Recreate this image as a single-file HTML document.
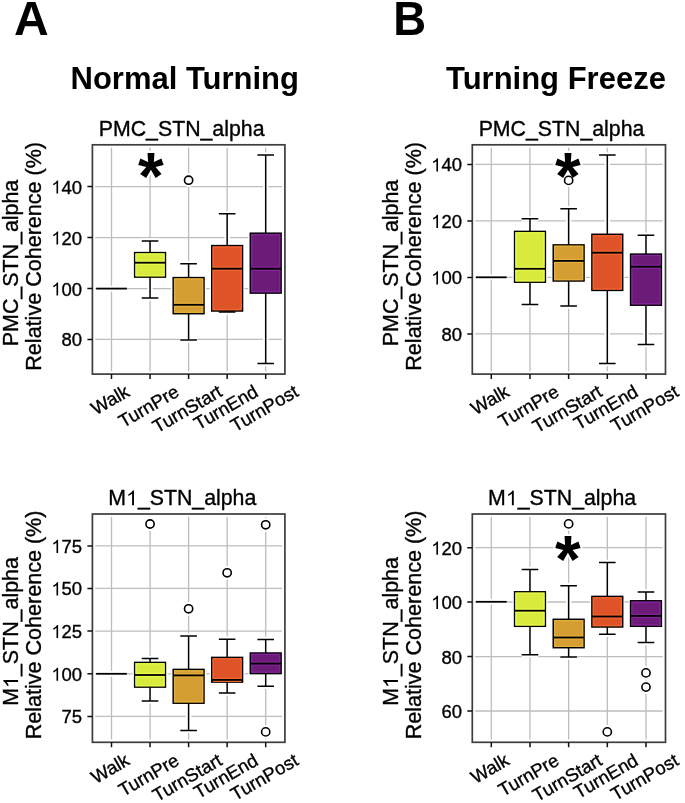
<!DOCTYPE html>
<html><head><meta charset="utf-8"><style>
html,body{margin:0;padding:0;background:#fff;}
body{width:685px;height:803px;overflow:hidden;}
svg{display:block;will-change:transform;}
.r text,.r path,text.xl{stroke:#000;stroke-width:0.35px;}
</style></head><body>
<svg width="685" height="803" viewBox="0 0 685 803">
<rect width="685" height="803" fill="#fff"/>
<path d="M111.5 144.8V374.1M150.05 144.8V374.1M188.6 144.8V374.1M227.15 144.8V374.1M265.7 144.8V374.1M92.4 186.6H284.9M92.4 237.6H284.9M92.4 288.6H284.9M92.4 339.4H284.9" stroke="#bdbdbd" stroke-width="1.3" fill="none"/>
<rect x="92.4" y="144.8" width="192.5" height="229.3" fill="none" stroke="#fff" stroke-width="5.7"/>
<line x1="96.1" y1="288.6" x2="126.9" y2="288.6" stroke="#fff" stroke-width="5.8"/>
<path d="M150.05 241V252.6M150.05 277.1V298M141.75 241H158.35M141.75 298H158.35" stroke="#fff" stroke-width="5.5" fill="none"/>
<rect x="134.65" y="252.6" width="30.8" height="24.5" fill="#fff" stroke="#fff" stroke-width="4.1"/>
<path d="M188.6 263.8V277.6M188.6 313.7V339.9M180.3 263.8H196.9M180.3 339.9H196.9" stroke="#fff" stroke-width="5.5" fill="none"/>
<rect x="173.2" y="277.6" width="30.8" height="36.1" fill="#fff" stroke="#fff" stroke-width="4.1"/>
<circle cx="188.6" cy="180.2" r="4.1" fill="#fff" stroke="#fff" stroke-width="5.6"/>
<path d="M227.15 213.8V245.6M227.15 311V312M218.85 213.8H235.45M218.85 312H235.45" stroke="#fff" stroke-width="5.5" fill="none"/>
<rect x="211.75" y="245.6" width="30.8" height="65.4" fill="#fff" stroke="#fff" stroke-width="4.1"/>
<path d="M265.7 155V233.2M265.7 293.1V363.6M257.4 155H274M257.4 363.6H274" stroke="#fff" stroke-width="5.5" fill="none"/>
<rect x="250.3" y="233.2" width="30.8" height="59.9" fill="#fff" stroke="#fff" stroke-width="4.1"/>
<text x="150.9" y="198.6" text-anchor="middle" style="font-family:'Liberation Sans',sans-serif;font-weight:bold;font-size:66px;stroke:#fff;stroke-width:4px;stroke-linejoin:round">*</text>
<line x1="96.1" y1="288.6" x2="126.9" y2="288.6" stroke="#000" stroke-width="1.8"/>
<path d="M150.05 241V252.6M150.05 277.1V298M141.75 241H158.35M141.75 298H158.35" stroke="#000" stroke-width="1.5" fill="none"/>
<rect x="134.65" y="252.6" width="30.8" height="24.5" fill="#D8EB3C" stroke="#000" stroke-width="1.5"/>
<rect x="136.05" y="254" width="28" height="21.7" fill="none" stroke="#E6F84A" stroke-width="1.3"/>
<path d="M136.05 261.15H164.05M136.05 264.25H164.05" stroke="#E6F84A" stroke-width="1.3"/>
<line x1="134.65" y1="262.7" x2="165.45" y2="262.7" stroke="#000" stroke-width="1.8"/>
<path d="M188.6 263.8V277.6M188.6 313.7V339.9M180.3 263.8H196.9M180.3 339.9H196.9" stroke="#000" stroke-width="1.5" fill="none"/>
<rect x="173.2" y="277.6" width="30.8" height="36.1" fill="#D49E32" stroke="#000" stroke-width="1.5"/>
<rect x="174.6" y="279" width="28" height="33.3" fill="none" stroke="#E6AE3A" stroke-width="1.3"/>
<path d="M174.6 303.25H202.6M174.6 306.35H202.6" stroke="#E6AE3A" stroke-width="1.3"/>
<line x1="173.2" y1="304.8" x2="204" y2="304.8" stroke="#000" stroke-width="1.8"/>
<path d="M227.15 213.8V245.6M227.15 311V312M218.85 213.8H235.45M218.85 312H235.45" stroke="#000" stroke-width="1.5" fill="none"/>
<rect x="211.75" y="245.6" width="30.8" height="65.4" fill="#DE5428" stroke="#000" stroke-width="1.5"/>
<rect x="213.15" y="247" width="28" height="62.6" fill="none" stroke="#F06430" stroke-width="1.3"/>
<path d="M213.15 267.15H241.15M213.15 270.25H241.15" stroke="#F06430" stroke-width="1.3"/>
<line x1="211.75" y1="268.7" x2="242.55" y2="268.7" stroke="#000" stroke-width="1.8"/>
<path d="M265.7 155V233.2M265.7 293.1V363.6M257.4 155H274M257.4 363.6H274" stroke="#000" stroke-width="1.5" fill="none"/>
<rect x="250.3" y="233.2" width="30.8" height="59.9" fill="#6C1B78" stroke="#000" stroke-width="1.5"/>
<rect x="251.7" y="234.6" width="28" height="57.1" fill="none" stroke="#85239A" stroke-width="1.3"/>
<path d="M251.7 267.15H279.7M251.7 270.25H279.7" stroke="#85239A" stroke-width="1.3"/>
<line x1="250.3" y1="268.7" x2="281.1" y2="268.7" stroke="#000" stroke-width="1.8"/>
<text x="150.9" y="198.6" text-anchor="middle" style="font-family:'Liberation Sans',sans-serif;font-weight:bold;font-size:66px">*</text>
<circle cx="188.6" cy="180.2" r="4.1" fill="#fff" stroke="#000" stroke-width="1.6"/>
<rect x="92.4" y="144.8" width="192.5" height="229.3" fill="none" stroke="#3d3d3d" stroke-width="1.7"/>
<path d="M87.4 186.6H92.4M87.4 237.6H92.4M87.4 288.6H92.4M87.4 339.4H92.4M111.5 374.1V379.1M150.05 374.1V379.1M188.6 374.1V379.1M227.15 374.1V379.1M265.7 374.1V379.1" stroke="#111" stroke-width="1.5" fill="none"/>
<g class="r" transform="translate(0,193.6) scale(1,1.035) translate(0,-193.6)"><path transform="translate(51.23,193.6) scale(0.00903,-0.00903)" d="M763 0H583V1098Q518 1038 412.5 979Q307 920 223 890V1057Q374 1125 487 1221Q600 1318 647 1409H763Z"/><text x="61.52" y="193.6" style="font-family:'Liberation Sans',sans-serif;font-size:18.5px">40</text></g>
<g class="r" transform="translate(0,244.6) scale(1,1.035) translate(0,-244.6)"><path transform="translate(51.23,244.6) scale(0.00903,-0.00903)" d="M763 0H583V1098Q518 1038 412.5 979Q307 920 223 890V1057Q374 1125 487 1221Q600 1318 647 1409H763Z"/><text x="61.52" y="244.6" style="font-family:'Liberation Sans',sans-serif;font-size:18.5px">20</text></g>
<g class="r" transform="translate(0,295.6) scale(1,1.035) translate(0,-295.6)"><path transform="translate(51.23,295.6) scale(0.00903,-0.00903)" d="M763 0H583V1098Q518 1038 412.5 979Q307 920 223 890V1057Q374 1125 487 1221Q600 1318 647 1409H763Z"/><text x="61.52" y="295.6" style="font-family:'Liberation Sans',sans-serif;font-size:18.5px">00</text></g>
<g class="r" transform="translate(0,346.4) scale(1,1.035) translate(0,-346.4)"><text x="61.52" y="346.4" style="font-family:'Liberation Sans',sans-serif;font-size:18.5px">80</text></g>
<text class="xl" transform="translate(110,399.78) rotate(-30)" x="0" y="6.47" text-anchor="middle" style="font-family:'Liberation Sans',sans-serif;font-size:18.5px">Walk</text>
<text class="xl" transform="translate(148.55,406.21) rotate(-30)" x="0" y="6.47" text-anchor="middle" style="font-family:'Liberation Sans',sans-serif;font-size:18.5px">TurnPre</text>
<text class="xl" transform="translate(187.1,408.78) rotate(-30)" x="0" y="6.47" text-anchor="middle" style="font-family:'Liberation Sans',sans-serif;font-size:18.5px">TurnStart</text>
<text class="xl" transform="translate(225.65,407.24) rotate(-30)" x="0" y="6.47" text-anchor="middle" style="font-family:'Liberation Sans',sans-serif;font-size:18.5px">TurnEnd</text>
<text class="xl" transform="translate(264.2,408.26) rotate(-30)" x="0" y="6.47" text-anchor="middle" style="font-family:'Liberation Sans',sans-serif;font-size:18.5px">TurnPost</text>
<path d="M491.3 144.8V374.1M529.97 144.8V374.1M568.64 144.8V374.1M607.31 144.8V374.1M645.98 144.8V374.1M472.3 164.4H665.5M472.3 220.9H665.5M472.3 277.4H665.5M472.3 333.9H665.5" stroke="#bdbdbd" stroke-width="1.3" fill="none"/>
<rect x="472.3" y="144.8" width="193.2" height="229.3" fill="none" stroke="#fff" stroke-width="5.7"/>
<line x1="475.9" y1="277.3" x2="506.7" y2="277.3" stroke="#fff" stroke-width="5.8"/>
<path d="M529.97 218.7V231.4M529.97 282.2V304.4M521.67 218.7H538.27M521.67 304.4H538.27" stroke="#fff" stroke-width="5.5" fill="none"/>
<rect x="514.57" y="231.4" width="30.8" height="50.8" fill="#fff" stroke="#fff" stroke-width="4.1"/>
<path d="M568.64 208.8V244.9M568.64 281V306.1M560.34 208.8H576.94M560.34 306.1H576.94" stroke="#fff" stroke-width="5.5" fill="none"/>
<rect x="553.24" y="244.9" width="30.8" height="36.1" fill="#fff" stroke="#fff" stroke-width="4.1"/>
<circle cx="568.64" cy="180.4" r="4.1" fill="#fff" stroke="#fff" stroke-width="5.6"/>
<path d="M607.31 155V234.3M607.31 290.4V363.6M599.01 155H615.61M599.01 363.6H615.61" stroke="#fff" stroke-width="5.5" fill="none"/>
<rect x="591.91" y="234.3" width="30.8" height="56.1" fill="#fff" stroke="#fff" stroke-width="4.1"/>
<path d="M645.98 235.3V254.1M645.98 305.2V344.6M637.68 235.3H654.28M637.68 344.6H654.28" stroke="#fff" stroke-width="5.5" fill="none"/>
<rect x="630.58" y="254.1" width="30.8" height="51.1" fill="#fff" stroke="#fff" stroke-width="4.1"/>
<text x="567.8" y="198.6" text-anchor="middle" style="font-family:'Liberation Sans',sans-serif;font-weight:bold;font-size:66px;stroke:#fff;stroke-width:4px;stroke-linejoin:round">*</text>
<line x1="475.9" y1="277.3" x2="506.7" y2="277.3" stroke="#000" stroke-width="1.8"/>
<path d="M529.97 218.7V231.4M529.97 282.2V304.4M521.67 218.7H538.27M521.67 304.4H538.27" stroke="#000" stroke-width="1.5" fill="none"/>
<rect x="514.57" y="231.4" width="30.8" height="50.8" fill="#D8EB3C" stroke="#000" stroke-width="1.5"/>
<rect x="515.97" y="232.8" width="28" height="48" fill="none" stroke="#E6F84A" stroke-width="1.3"/>
<path d="M515.97 267.25H543.97M515.97 270.35H543.97" stroke="#E6F84A" stroke-width="1.3"/>
<line x1="514.57" y1="268.8" x2="545.37" y2="268.8" stroke="#000" stroke-width="1.8"/>
<path d="M568.64 208.8V244.9M568.64 281V306.1M560.34 208.8H576.94M560.34 306.1H576.94" stroke="#000" stroke-width="1.5" fill="none"/>
<rect x="553.24" y="244.9" width="30.8" height="36.1" fill="#D49E32" stroke="#000" stroke-width="1.5"/>
<rect x="554.64" y="246.3" width="28" height="33.3" fill="none" stroke="#E6AE3A" stroke-width="1.3"/>
<path d="M554.64 259.35H582.64M554.64 262.45H582.64" stroke="#E6AE3A" stroke-width="1.3"/>
<line x1="553.24" y1="260.9" x2="584.04" y2="260.9" stroke="#000" stroke-width="1.8"/>
<path d="M607.31 155V234.3M607.31 290.4V363.6M599.01 155H615.61M599.01 363.6H615.61" stroke="#000" stroke-width="1.5" fill="none"/>
<rect x="591.91" y="234.3" width="30.8" height="56.1" fill="#DE5428" stroke="#000" stroke-width="1.5"/>
<rect x="593.31" y="235.7" width="28" height="53.3" fill="none" stroke="#F06430" stroke-width="1.3"/>
<path d="M593.31 251.15H621.31M593.31 254.25H621.31" stroke="#F06430" stroke-width="1.3"/>
<line x1="591.91" y1="252.7" x2="622.71" y2="252.7" stroke="#000" stroke-width="1.8"/>
<path d="M645.98 235.3V254.1M645.98 305.2V344.6M637.68 235.3H654.28M637.68 344.6H654.28" stroke="#000" stroke-width="1.5" fill="none"/>
<rect x="630.58" y="254.1" width="30.8" height="51.1" fill="#6C1B78" stroke="#000" stroke-width="1.5"/>
<rect x="631.98" y="255.5" width="28" height="48.3" fill="none" stroke="#85239A" stroke-width="1.3"/>
<path d="M631.98 265.15H659.98M631.98 268.25H659.98" stroke="#85239A" stroke-width="1.3"/>
<line x1="630.58" y1="266.7" x2="661.38" y2="266.7" stroke="#000" stroke-width="1.8"/>
<text x="567.8" y="198.6" text-anchor="middle" style="font-family:'Liberation Sans',sans-serif;font-weight:bold;font-size:66px">*</text>
<circle cx="568.64" cy="180.4" r="4.1" fill="#fff" stroke="#000" stroke-width="1.6"/>
<rect x="472.3" y="144.8" width="193.2" height="229.3" fill="none" stroke="#3d3d3d" stroke-width="1.7"/>
<path d="M467.3 164.4H472.3M467.3 220.9H472.3M467.3 277.4H472.3M467.3 333.9H472.3M491.3 374.1V379.1M529.97 374.1V379.1M568.64 374.1V379.1M607.31 374.1V379.1M645.98 374.1V379.1" stroke="#111" stroke-width="1.5" fill="none"/>
<g class="r" transform="translate(0,171.4) scale(1,1.035) translate(0,-171.4)"><path transform="translate(431.13,171.4) scale(0.00903,-0.00903)" d="M763 0H583V1098Q518 1038 412.5 979Q307 920 223 890V1057Q374 1125 487 1221Q600 1318 647 1409H763Z"/><text x="441.42" y="171.4" style="font-family:'Liberation Sans',sans-serif;font-size:18.5px">40</text></g>
<g class="r" transform="translate(0,227.9) scale(1,1.035) translate(0,-227.9)"><path transform="translate(431.13,227.9) scale(0.00903,-0.00903)" d="M763 0H583V1098Q518 1038 412.5 979Q307 920 223 890V1057Q374 1125 487 1221Q600 1318 647 1409H763Z"/><text x="441.42" y="227.9" style="font-family:'Liberation Sans',sans-serif;font-size:18.5px">20</text></g>
<g class="r" transform="translate(0,284.4) scale(1,1.035) translate(0,-284.4)"><path transform="translate(431.13,284.4) scale(0.00903,-0.00903)" d="M763 0H583V1098Q518 1038 412.5 979Q307 920 223 890V1057Q374 1125 487 1221Q600 1318 647 1409H763Z"/><text x="441.42" y="284.4" style="font-family:'Liberation Sans',sans-serif;font-size:18.5px">00</text></g>
<g class="r" transform="translate(0,340.9) scale(1,1.035) translate(0,-340.9)"><text x="441.42" y="340.9" style="font-family:'Liberation Sans',sans-serif;font-size:18.5px">80</text></g>
<text class="xl" transform="translate(489.8,399.78) rotate(-30)" x="0" y="6.47" text-anchor="middle" style="font-family:'Liberation Sans',sans-serif;font-size:18.5px">Walk</text>
<text class="xl" transform="translate(528.47,406.21) rotate(-30)" x="0" y="6.47" text-anchor="middle" style="font-family:'Liberation Sans',sans-serif;font-size:18.5px">TurnPre</text>
<text class="xl" transform="translate(567.14,408.78) rotate(-30)" x="0" y="6.47" text-anchor="middle" style="font-family:'Liberation Sans',sans-serif;font-size:18.5px">TurnStart</text>
<text class="xl" transform="translate(605.81,407.24) rotate(-30)" x="0" y="6.47" text-anchor="middle" style="font-family:'Liberation Sans',sans-serif;font-size:18.5px">TurnEnd</text>
<text class="xl" transform="translate(644.48,408.26) rotate(-30)" x="0" y="6.47" text-anchor="middle" style="font-family:'Liberation Sans',sans-serif;font-size:18.5px">TurnPost</text>
<path d="M111.5 514V742.3M150.05 514V742.3M188.6 514V742.3M227.15 514V742.3M265.7 514V742.3M92.4 545.9H284.9M92.4 588.4H284.9M92.4 631.1H284.9M92.4 673.8H284.9M92.4 716.4H284.9" stroke="#bdbdbd" stroke-width="1.3" fill="none"/>
<rect x="92.4" y="514" width="192.5" height="228.3" fill="none" stroke="#fff" stroke-width="5.7"/>
<line x1="96.1" y1="673.8" x2="126.9" y2="673.8" stroke="#fff" stroke-width="5.8"/>
<path d="M150.05 658.5V662.4M150.05 687.1V700.9M141.75 658.5H158.35M141.75 700.9H158.35" stroke="#fff" stroke-width="5.5" fill="none"/>
<rect x="134.65" y="662.4" width="30.8" height="24.7" fill="#fff" stroke="#fff" stroke-width="4.1"/>
<circle cx="150.05" cy="524" r="4.1" fill="#fff" stroke="#fff" stroke-width="5.6"/>
<path d="M188.6 635.9V669.4M188.6 703.2V730.4M180.3 635.9H196.9M180.3 730.4H196.9" stroke="#fff" stroke-width="5.5" fill="none"/>
<rect x="173.2" y="669.4" width="30.8" height="33.8" fill="#fff" stroke="#fff" stroke-width="4.1"/>
<circle cx="188.6" cy="608.8" r="4.1" fill="#fff" stroke="#fff" stroke-width="5.6"/>
<path d="M227.15 639.2V657.4M227.15 682.1V693M218.85 639.2H235.45M218.85 693H235.45" stroke="#fff" stroke-width="5.5" fill="none"/>
<rect x="211.75" y="657.4" width="30.8" height="24.7" fill="#fff" stroke="#fff" stroke-width="4.1"/>
<circle cx="227.15" cy="572.8" r="4.1" fill="#fff" stroke="#fff" stroke-width="5.6"/>
<path d="M265.7 639.5V653M265.7 673.6V686.3M257.4 639.5H274M257.4 686.3H274" stroke="#fff" stroke-width="5.5" fill="none"/>
<rect x="250.3" y="653" width="30.8" height="20.6" fill="#fff" stroke="#fff" stroke-width="4.1"/>
<circle cx="265.7" cy="524.8" r="4.1" fill="#fff" stroke="#fff" stroke-width="5.6"/>
<circle cx="265.7" cy="731.9" r="4.1" fill="#fff" stroke="#fff" stroke-width="5.6"/>
<line x1="96.1" y1="673.8" x2="126.9" y2="673.8" stroke="#000" stroke-width="1.8"/>
<path d="M150.05 658.5V662.4M150.05 687.1V700.9M141.75 658.5H158.35M141.75 700.9H158.35" stroke="#000" stroke-width="1.5" fill="none"/>
<rect x="134.65" y="662.4" width="30.8" height="24.7" fill="#D8EB3C" stroke="#000" stroke-width="1.5"/>
<rect x="136.05" y="663.8" width="28" height="21.9" fill="none" stroke="#E6F84A" stroke-width="1.3"/>
<path d="M136.05 673.45H164.05M136.05 676.55H164.05" stroke="#E6F84A" stroke-width="1.3"/>
<line x1="134.65" y1="675" x2="165.45" y2="675" stroke="#000" stroke-width="1.8"/>
<path d="M188.6 635.9V669.4M188.6 703.2V730.4M180.3 635.9H196.9M180.3 730.4H196.9" stroke="#000" stroke-width="1.5" fill="none"/>
<rect x="173.2" y="669.4" width="30.8" height="33.8" fill="#D49E32" stroke="#000" stroke-width="1.5"/>
<rect x="174.6" y="670.8" width="28" height="31" fill="none" stroke="#E6AE3A" stroke-width="1.3"/>
<path d="M174.6 673.85H202.6M174.6 676.95H202.6" stroke="#E6AE3A" stroke-width="1.3"/>
<line x1="173.2" y1="675.4" x2="204" y2="675.4" stroke="#000" stroke-width="1.8"/>
<path d="M227.15 639.2V657.4M227.15 682.1V693M218.85 639.2H235.45M218.85 693H235.45" stroke="#000" stroke-width="1.5" fill="none"/>
<rect x="211.75" y="657.4" width="30.8" height="24.7" fill="#DE5428" stroke="#000" stroke-width="1.5"/>
<rect x="213.15" y="658.8" width="28" height="21.9" fill="none" stroke="#F06430" stroke-width="1.3"/>
<path d="M213.15 678.35H241.15M213.15 681.45H241.15" stroke="#F06430" stroke-width="1.3"/>
<line x1="211.75" y1="679.9" x2="242.55" y2="679.9" stroke="#000" stroke-width="1.8"/>
<path d="M265.7 639.5V653M265.7 673.6V686.3M257.4 639.5H274M257.4 686.3H274" stroke="#000" stroke-width="1.5" fill="none"/>
<rect x="250.3" y="653" width="30.8" height="20.6" fill="#6C1B78" stroke="#000" stroke-width="1.5"/>
<rect x="251.7" y="654.4" width="28" height="17.8" fill="none" stroke="#85239A" stroke-width="1.3"/>
<path d="M251.7 662.05H279.7M251.7 665.15H279.7" stroke="#85239A" stroke-width="1.3"/>
<line x1="250.3" y1="663.6" x2="281.1" y2="663.6" stroke="#000" stroke-width="1.8"/>
<circle cx="150.05" cy="524" r="4.1" fill="#fff" stroke="#000" stroke-width="1.6"/>
<circle cx="188.6" cy="608.8" r="4.1" fill="#fff" stroke="#000" stroke-width="1.6"/>
<circle cx="227.15" cy="572.8" r="4.1" fill="#fff" stroke="#000" stroke-width="1.6"/>
<circle cx="265.7" cy="524.8" r="4.1" fill="#fff" stroke="#000" stroke-width="1.6"/>
<circle cx="265.7" cy="731.9" r="4.1" fill="#fff" stroke="#000" stroke-width="1.6"/>
<rect x="92.4" y="514" width="192.5" height="228.3" fill="none" stroke="#3d3d3d" stroke-width="1.7"/>
<path d="M87.4 545.9H92.4M87.4 588.4H92.4M87.4 631.1H92.4M87.4 673.8H92.4M87.4 716.4H92.4M111.5 742.3V747.3M150.05 742.3V747.3M188.6 742.3V747.3M227.15 742.3V747.3M265.7 742.3V747.3" stroke="#111" stroke-width="1.5" fill="none"/>
<g class="r" transform="translate(0,552.9) scale(1,1.035) translate(0,-552.9)"><path transform="translate(51.23,552.9) scale(0.00903,-0.00903)" d="M763 0H583V1098Q518 1038 412.5 979Q307 920 223 890V1057Q374 1125 487 1221Q600 1318 647 1409H763Z"/><text x="61.52" y="552.9" style="font-family:'Liberation Sans',sans-serif;font-size:18.5px">75</text></g>
<g class="r" transform="translate(0,595.4) scale(1,1.035) translate(0,-595.4)"><path transform="translate(51.23,595.4) scale(0.00903,-0.00903)" d="M763 0H583V1098Q518 1038 412.5 979Q307 920 223 890V1057Q374 1125 487 1221Q600 1318 647 1409H763Z"/><text x="61.52" y="595.4" style="font-family:'Liberation Sans',sans-serif;font-size:18.5px">50</text></g>
<g class="r" transform="translate(0,638.1) scale(1,1.035) translate(0,-638.1)"><path transform="translate(51.23,638.1) scale(0.00903,-0.00903)" d="M763 0H583V1098Q518 1038 412.5 979Q307 920 223 890V1057Q374 1125 487 1221Q600 1318 647 1409H763Z"/><text x="61.52" y="638.1" style="font-family:'Liberation Sans',sans-serif;font-size:18.5px">25</text></g>
<g class="r" transform="translate(0,680.8) scale(1,1.035) translate(0,-680.8)"><path transform="translate(51.23,680.8) scale(0.00903,-0.00903)" d="M763 0H583V1098Q518 1038 412.5 979Q307 920 223 890V1057Q374 1125 487 1221Q600 1318 647 1409H763Z"/><text x="61.52" y="680.8" style="font-family:'Liberation Sans',sans-serif;font-size:18.5px">00</text></g>
<g class="r" transform="translate(0,723.4) scale(1,1.035) translate(0,-723.4)"><text x="61.52" y="723.4" style="font-family:'Liberation Sans',sans-serif;font-size:18.5px">75</text></g>
<text class="xl" transform="translate(110,768.48) rotate(-30)" x="0" y="6.47" text-anchor="middle" style="font-family:'Liberation Sans',sans-serif;font-size:18.5px">Walk</text>
<text class="xl" transform="translate(148.55,774.91) rotate(-30)" x="0" y="6.47" text-anchor="middle" style="font-family:'Liberation Sans',sans-serif;font-size:18.5px">TurnPre</text>
<text class="xl" transform="translate(187.1,777.48) rotate(-30)" x="0" y="6.47" text-anchor="middle" style="font-family:'Liberation Sans',sans-serif;font-size:18.5px">TurnStart</text>
<text class="xl" transform="translate(225.65,775.94) rotate(-30)" x="0" y="6.47" text-anchor="middle" style="font-family:'Liberation Sans',sans-serif;font-size:18.5px">TurnEnd</text>
<text class="xl" transform="translate(264.2,776.96) rotate(-30)" x="0" y="6.47" text-anchor="middle" style="font-family:'Liberation Sans',sans-serif;font-size:18.5px">TurnPost</text>
<path d="M491.3 514V742.3M529.97 514V742.3M568.64 514V742.3M607.31 514V742.3M645.98 514V742.3M472.3 547.7H665.5M472.3 602H665.5M472.3 656.6H665.5M472.3 711H665.5" stroke="#bdbdbd" stroke-width="1.3" fill="none"/>
<rect x="472.3" y="514" width="193.2" height="228.3" fill="none" stroke="#fff" stroke-width="5.7"/>
<line x1="475.9" y1="601.8" x2="506.7" y2="601.8" stroke="#fff" stroke-width="5.8"/>
<path d="M529.97 569.6V591.8M529.97 626.3V654.7M521.67 569.6H538.27M521.67 654.7H538.27" stroke="#fff" stroke-width="5.5" fill="none"/>
<rect x="514.57" y="591.8" width="30.8" height="34.5" fill="#fff" stroke="#fff" stroke-width="4.1"/>
<path d="M568.64 585.7V619.3M568.64 647.7V657.1M560.34 585.7H576.94M560.34 657.1H576.94" stroke="#fff" stroke-width="5.5" fill="none"/>
<rect x="553.24" y="619.3" width="30.8" height="28.4" fill="#fff" stroke="#fff" stroke-width="4.1"/>
<circle cx="568.64" cy="523.9" r="4.1" fill="#fff" stroke="#fff" stroke-width="5.6"/>
<path d="M607.31 562.4V596.4M607.31 627V634.2M599.01 562.4H615.61M599.01 634.2H615.61" stroke="#fff" stroke-width="5.5" fill="none"/>
<rect x="591.91" y="596.4" width="30.8" height="30.6" fill="#fff" stroke="#fff" stroke-width="4.1"/>
<circle cx="607.31" cy="731.9" r="4.1" fill="#fff" stroke="#fff" stroke-width="5.6"/>
<path d="M645.98 591.9V600.8M645.98 626.3V642.4M637.68 591.9H654.28M637.68 642.4H654.28" stroke="#fff" stroke-width="5.5" fill="none"/>
<rect x="630.58" y="600.8" width="30.8" height="25.5" fill="#fff" stroke="#fff" stroke-width="4.1"/>
<circle cx="645.98" cy="672.9" r="4.1" fill="#fff" stroke="#fff" stroke-width="5.6"/>
<circle cx="645.98" cy="687.1" r="4.1" fill="#fff" stroke="#fff" stroke-width="5.6"/>
<text x="567.9" y="581.5" text-anchor="middle" style="font-family:'Liberation Sans',sans-serif;font-weight:bold;font-size:66px;stroke:#fff;stroke-width:4px;stroke-linejoin:round">*</text>
<line x1="475.9" y1="601.8" x2="506.7" y2="601.8" stroke="#000" stroke-width="1.8"/>
<path d="M529.97 569.6V591.8M529.97 626.3V654.7M521.67 569.6H538.27M521.67 654.7H538.27" stroke="#000" stroke-width="1.5" fill="none"/>
<rect x="514.57" y="591.8" width="30.8" height="34.5" fill="#D8EB3C" stroke="#000" stroke-width="1.5"/>
<rect x="515.97" y="593.2" width="28" height="31.7" fill="none" stroke="#E6F84A" stroke-width="1.3"/>
<path d="M515.97 609.15H543.97M515.97 612.25H543.97" stroke="#E6F84A" stroke-width="1.3"/>
<line x1="514.57" y1="610.7" x2="545.37" y2="610.7" stroke="#000" stroke-width="1.8"/>
<path d="M568.64 585.7V619.3M568.64 647.7V657.1M560.34 585.7H576.94M560.34 657.1H576.94" stroke="#000" stroke-width="1.5" fill="none"/>
<rect x="553.24" y="619.3" width="30.8" height="28.4" fill="#D49E32" stroke="#000" stroke-width="1.5"/>
<rect x="554.64" y="620.7" width="28" height="25.6" fill="none" stroke="#E6AE3A" stroke-width="1.3"/>
<path d="M554.64 635.95H582.64M554.64 639.05H582.64" stroke="#E6AE3A" stroke-width="1.3"/>
<line x1="553.24" y1="637.5" x2="584.04" y2="637.5" stroke="#000" stroke-width="1.8"/>
<path d="M607.31 562.4V596.4M607.31 627V634.2M599.01 562.4H615.61M599.01 634.2H615.61" stroke="#000" stroke-width="1.5" fill="none"/>
<rect x="591.91" y="596.4" width="30.8" height="30.6" fill="#DE5428" stroke="#000" stroke-width="1.5"/>
<rect x="593.31" y="597.8" width="28" height="27.8" fill="none" stroke="#F06430" stroke-width="1.3"/>
<path d="M593.31 614.95H621.31M593.31 618.05H621.31" stroke="#F06430" stroke-width="1.3"/>
<line x1="591.91" y1="616.5" x2="622.71" y2="616.5" stroke="#000" stroke-width="1.8"/>
<path d="M645.98 591.9V600.8M645.98 626.3V642.4M637.68 591.9H654.28M637.68 642.4H654.28" stroke="#000" stroke-width="1.5" fill="none"/>
<rect x="630.58" y="600.8" width="30.8" height="25.5" fill="#6C1B78" stroke="#000" stroke-width="1.5"/>
<rect x="631.98" y="602.2" width="28" height="22.7" fill="none" stroke="#85239A" stroke-width="1.3"/>
<path d="M631.98 614.35H659.98M631.98 617.45H659.98" stroke="#85239A" stroke-width="1.3"/>
<line x1="630.58" y1="615.9" x2="661.38" y2="615.9" stroke="#000" stroke-width="1.8"/>
<text x="567.9" y="581.5" text-anchor="middle" style="font-family:'Liberation Sans',sans-serif;font-weight:bold;font-size:66px">*</text>
<circle cx="568.64" cy="523.9" r="4.1" fill="#fff" stroke="#000" stroke-width="1.6"/>
<circle cx="607.31" cy="731.9" r="4.1" fill="#fff" stroke="#000" stroke-width="1.6"/>
<circle cx="645.98" cy="672.9" r="4.1" fill="#fff" stroke="#000" stroke-width="1.6"/>
<circle cx="645.98" cy="687.1" r="4.1" fill="#fff" stroke="#000" stroke-width="1.6"/>
<rect x="472.3" y="514" width="193.2" height="228.3" fill="none" stroke="#3d3d3d" stroke-width="1.7"/>
<path d="M467.3 547.7H472.3M467.3 602H472.3M467.3 656.6H472.3M467.3 711H472.3M491.3 742.3V747.3M529.97 742.3V747.3M568.64 742.3V747.3M607.31 742.3V747.3M645.98 742.3V747.3" stroke="#111" stroke-width="1.5" fill="none"/>
<g class="r" transform="translate(0,554.7) scale(1,1.035) translate(0,-554.7)"><path transform="translate(431.13,554.7) scale(0.00903,-0.00903)" d="M763 0H583V1098Q518 1038 412.5 979Q307 920 223 890V1057Q374 1125 487 1221Q600 1318 647 1409H763Z"/><text x="441.42" y="554.7" style="font-family:'Liberation Sans',sans-serif;font-size:18.5px">20</text></g>
<g class="r" transform="translate(0,609) scale(1,1.035) translate(0,-609)"><path transform="translate(431.13,609) scale(0.00903,-0.00903)" d="M763 0H583V1098Q518 1038 412.5 979Q307 920 223 890V1057Q374 1125 487 1221Q600 1318 647 1409H763Z"/><text x="441.42" y="609" style="font-family:'Liberation Sans',sans-serif;font-size:18.5px">00</text></g>
<g class="r" transform="translate(0,663.6) scale(1,1.035) translate(0,-663.6)"><text x="441.42" y="663.6" style="font-family:'Liberation Sans',sans-serif;font-size:18.5px">80</text></g>
<g class="r" transform="translate(0,718) scale(1,1.035) translate(0,-718)"><text x="441.42" y="718" style="font-family:'Liberation Sans',sans-serif;font-size:18.5px">60</text></g>
<text class="xl" transform="translate(489.8,768.48) rotate(-30)" x="0" y="6.47" text-anchor="middle" style="font-family:'Liberation Sans',sans-serif;font-size:18.5px">Walk</text>
<text class="xl" transform="translate(528.47,774.91) rotate(-30)" x="0" y="6.47" text-anchor="middle" style="font-family:'Liberation Sans',sans-serif;font-size:18.5px">TurnPre</text>
<text class="xl" transform="translate(567.14,777.48) rotate(-30)" x="0" y="6.47" text-anchor="middle" style="font-family:'Liberation Sans',sans-serif;font-size:18.5px">TurnStart</text>
<text class="xl" transform="translate(605.81,775.94) rotate(-30)" x="0" y="6.47" text-anchor="middle" style="font-family:'Liberation Sans',sans-serif;font-size:18.5px">TurnEnd</text>
<text class="xl" transform="translate(644.48,776.96) rotate(-30)" x="0" y="6.47" text-anchor="middle" style="font-family:'Liberation Sans',sans-serif;font-size:18.5px">TurnPost</text>
<text x="14" y="35" style="font-family:'Liberation Sans',sans-serif;font-weight:bold;font-size:48px">A</text>
<text transform="translate(393.3,35) scale(0.95,1)" style="font-family:'Liberation Sans',sans-serif;font-weight:bold;font-size:48px">B</text>
<text x="70.5" y="89" style="font-family:'Liberation Sans',sans-serif;font-weight:bold;font-size:31px">Normal Turning</text>
<text x="446" y="89" style="font-family:'Liberation Sans',sans-serif;font-weight:bold;font-size:31px">Turning Freeze</text>
<g class="r"><text x="98.78" y="135.8" style="font-family:'Liberation Sans',sans-serif;font-size:21.3px">PMC_STN_alpha</text></g>
<g class="r"><text x="478.63" y="135.8" style="font-family:'Liberation Sans',sans-serif;font-size:21.3px">PMC_STN_alpha</text></g>
<g class="r"><text x="108.3" y="505.2" style="font-family:'Liberation Sans',sans-serif;font-size:21.3px">M</text><path transform="translate(126.04,505.2) scale(0.01040,-0.01040)" d="M763 0H583V1098Q518 1038 412.5 979Q307 920 223 890V1057Q374 1125 487 1221Q600 1318 647 1409H763Z"/><text x="137.89" y="505.2" style="font-family:'Liberation Sans',sans-serif;font-size:21.3px">_STN_alpha</text></g>
<g class="r"><text x="488.1" y="505.2" style="font-family:'Liberation Sans',sans-serif;font-size:21.3px">M</text><path transform="translate(505.84,505.2) scale(0.01040,-0.01040)" d="M763 0H583V1098Q518 1038 412.5 979Q307 920 223 890V1057Q374 1125 487 1221Q600 1318 647 1409H763Z"/><text x="517.69" y="505.2" style="font-family:'Liberation Sans',sans-serif;font-size:21.3px">_STN_alpha</text></g>
<g class="r" transform="translate(18.1,346.2) rotate(-90)"><text x="0" y="0" style="font-family:'Liberation Sans',sans-serif;font-size:21.4px">PMC_STN_alpha</text></g>
<g class="r" transform="translate(40.8,370.7) rotate(-90)"><text x="0" y="0" style="font-family:'Liberation Sans',sans-serif;font-size:21.55px">Relative Coherence (%)</text></g>
<g class="r" transform="translate(18.1,705.8) rotate(-90)"><text x="0" y="0" style="font-family:'Liberation Sans',sans-serif;font-size:21.4px">M</text><path transform="translate(17.83,0) scale(0.01045,-0.01045)" d="M763 0H583V1098Q518 1038 412.5 979Q307 920 223 890V1057Q374 1125 487 1221Q600 1318 647 1409H763Z"/><text x="29.73" y="0" style="font-family:'Liberation Sans',sans-serif;font-size:21.4px">_STN_alpha</text></g>
<g class="r" transform="translate(40.8,739.3) rotate(-90)"><text x="0" y="0" style="font-family:'Liberation Sans',sans-serif;font-size:21.55px">Relative Coherence (%)</text></g>
<g class="r" transform="translate(397.9,346.2) rotate(-90)"><text x="0" y="0" style="font-family:'Liberation Sans',sans-serif;font-size:21.4px">PMC_STN_alpha</text></g>
<g class="r" transform="translate(420.6,370.7) rotate(-90)"><text x="0" y="0" style="font-family:'Liberation Sans',sans-serif;font-size:21.55px">Relative Coherence (%)</text></g>
<g class="r" transform="translate(397.9,705.8) rotate(-90)"><text x="0" y="0" style="font-family:'Liberation Sans',sans-serif;font-size:21.4px">M</text><path transform="translate(17.83,0) scale(0.01045,-0.01045)" d="M763 0H583V1098Q518 1038 412.5 979Q307 920 223 890V1057Q374 1125 487 1221Q600 1318 647 1409H763Z"/><text x="29.73" y="0" style="font-family:'Liberation Sans',sans-serif;font-size:21.4px">_STN_alpha</text></g>
<g class="r" transform="translate(420.6,739.3) rotate(-90)"><text x="0" y="0" style="font-family:'Liberation Sans',sans-serif;font-size:21.55px">Relative Coherence (%)</text></g>
</svg>
</body></html>
